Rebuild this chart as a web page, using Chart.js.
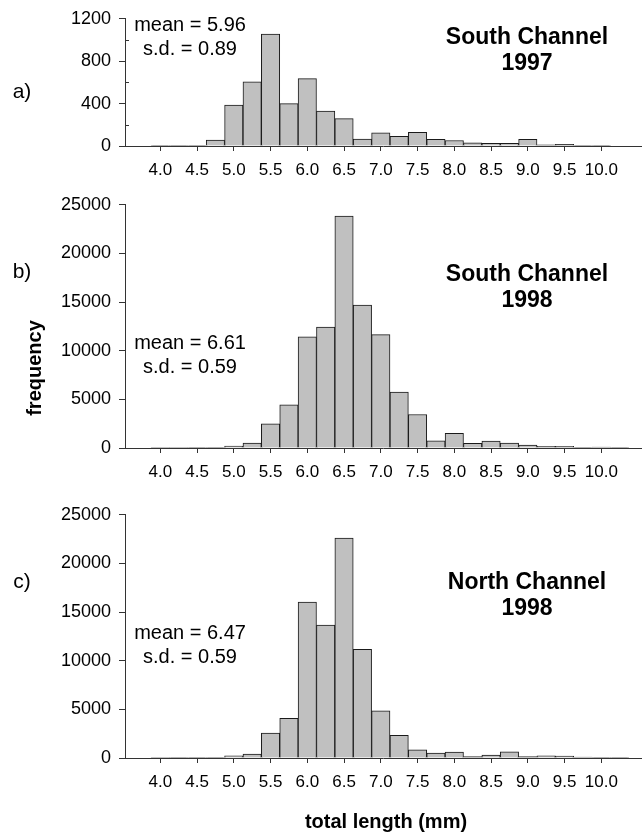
<!DOCTYPE html>
<html>
<head>
<meta charset="utf-8">
<script src="https://cdn.jsdelivr.net/npm/chart.js@4.4.0/dist/chart.umd.min.js"></script>
<style>
    html, body { margin: 0; padding: 0; background: #fff; }
    #page { position: relative; width: 642px; height: 838px; overflow: hidden;
            font-family: "Liberation Sans", Arial, sans-serif; color: #000; }
    canvas { position: absolute; left: 0; }
    .txt { position: absolute; transform: translate(-50%, -50%); white-space: nowrap; text-align: center; }
    .stats { font-size: 20px; line-height: 24px; }
    .title { font-size: 23px; font-weight: bold; line-height: 26px; }
    .tag { font-size: 21px; }
    .axis-title { font-size: 20px; font-weight: bold; }
</style>
</head>
<body>
<div id="page">
    <canvas id="chart-a" width="642" height="200" style="top:0px"></canvas>
    <canvas id="chart-b" width="642" height="316" style="top:186px"></canvas>
    <canvas id="chart-c" width="642" height="316" style="top:496px"></canvas>

    <div class="txt tag" style="left:22px; top:91px">a)</div>
    <div class="txt tag" style="left:22px; top:271px">b)</div>
    <div class="txt tag" style="left:22px; top:581px">c)</div>

    <div class="txt stats" style="left:190px; top:36px">mean = 5.96<br>s.d. = 0.89</div>
    <div class="txt stats" style="left:190px; top:354px">mean = 6.61<br>s.d. = 0.59</div>
    <div class="txt stats" style="left:190px; top:644px">mean = 6.47<br>s.d. = 0.59</div>

    <div class="txt title" style="left:527px; top:49px">South Channel<br>1997</div>
    <div class="txt title" style="left:527px; top:286px">South Channel<br>1998</div>
    <div class="txt title" style="left:527px; top:594px">North Channel<br>1998</div>

    <div class="txt axis-title" style="left:34px; top:368px; transform: translate(-50%, -50%) rotate(-90deg)">frequency</div>
    <div class="txt axis-title" style="left:386px; top:821px">total length (mm)</div>
</div>

<script>
// Bin centres (total length, mm), 0.25 mm bins
const binCenters = [3.75, 4.0, 4.25, 4.5, 4.75, 5.0, 5.25, 5.5, 5.75, 6.0, 6.25, 6.5, 6.75, 7.0,
                    7.25, 7.5, 7.75, 8.0, 8.25, 8.5, 8.75, 9.0, 9.25, 9.5, 9.75, 10.0, 10.25, 10.5];

// a) South Channel 1997
const countsSouth1997 = [0, 1, 2, 6, 55, 385, 605, 1055, 400, 635, 330, 258, 65, 125,
                         92, 128, 62, 52, 31, 25, 25, 62, 12, 15, 2, 1, 0, 0];
// b) South Channel 1998
const countsSouth1998 = [0, 5, 5, 10, 30, 200, 505, 2490, 4450, 11420, 12430, 23830, 14690, 11660,
                         5760, 3440, 740, 1520, 470, 710, 505, 300, 170, 170, 35, 100, 10, 0];
// c) North Channel 1998
const countsNorth1998 = [0, 5, 10, 20, 70, 235, 405, 2560, 4080, 16030, 13670, 22610, 11170, 4860,
                         2330, 845, 505, 605, 135, 305, 640, 135, 235, 200, 100, 65, 10, 0];

// Tick labels
const xTicks = [4.0, 4.5, 5.0, 5.5, 6.0, 6.5, 7.0, 7.5, 8.0, 8.5, 9.0, 9.5, 10.0];
const yTicksA = [0, 400, 800, 1200];
const yMinorA = [200, 600, 1000];
const yTicksBC = [0, 5000, 10000, 15000, 20000, 25000];

const axisColor = '#333';
const fontFamily = '"Liberation Sans", Arial, sans-serif';

// short inward ticks between labelled ones
function minorTickPlugin(values) {
    return {
        id: 'minorTicks',
        afterDraw(chart) {
            const y = chart.scales.y;
            const ctx = chart.ctx;
            ctx.save();
            ctx.strokeStyle = axisColor;
            ctx.lineWidth = 1;
            values.forEach(v => {
                const py = Math.round(y.getPixelForValue(v)) + 0.5;
                ctx.beginPath();
                ctx.moveTo(y.right, py);
                ctx.lineTo(y.right + 4, py);
                ctx.stroke();
            });
            ctx.restore();
        }
    };
}

function makeHistogram(canvasId, counts, yTicks, minor) {
    const points = binCenters.map((x, i) => ({ x: x, y: counts[i] }));
    return new Chart(document.getElementById(canvasId), {
        type: 'bar',
        data: {
            datasets: [{
                data: points,
                backgroundColor: '#c0c0c0',
                borderColor: '#1a1a1a',
                borderWidth: 1,
                barPercentage: 1,
                categoryPercentage: 1
            }]
        },
        options: {
            responsive: false,
            animation: false,
            layout: { padding: { top: 15, right: 1, left: 0, bottom: 0 } },
            plugins: {
                legend: { display: false },
                tooltip: { enabled: false }
            },
            scales: {
                x: {
                    type: 'linear',
                    min: 3.52,
                    max: 10.54,
                    offset: false,
                    grid: { offset: false, drawOnChartArea: false, drawTicks: true, tickLength: 5, color: axisColor },
                    border: { display: true, color: axisColor, width: 1 },
                    afterBuildTicks: scale => { scale.ticks = xTicks.map(v => ({ value: v })); },
                    afterFit: scale => { scale.height = 54; },
                    ticks: {
                        autoSkip: false,
                        maxRotation: 0,
                        padding: 9,
                        color: '#000',
                        font: { family: fontFamily, size: 17 },
                        callback: v => Number(v).toFixed(1)
                    }
                },
                y: {
                    min: 0,
                    max: yTicks[yTicks.length - 1],
                    grid: { drawOnChartArea: false, drawTicks: true, tickLength: 6, color: axisColor },
                    border: { display: true, color: axisColor, width: 1 },
                    afterBuildTicks: scale => { scale.ticks = yTicks.map(v => ({ value: v })); },
                    afterFit: scale => { scale.width = 125; },
                    ticks: {
                        padding: 8,
                        color: '#000',
                        font: { family: fontFamily, size: 18 },
                        callback: v => String(v)
                    }
                }
            }
        },
        plugins: minor ? [minorTickPlugin(minor)] : []
    });
}

makeHistogram('chart-a', countsSouth1997, yTicksA, yMinorA);
makeHistogram('chart-b', countsSouth1998, yTicksBC, null);
makeHistogram('chart-c', countsNorth1998, yTicksBC, null);
</script>
</body>
</html>
